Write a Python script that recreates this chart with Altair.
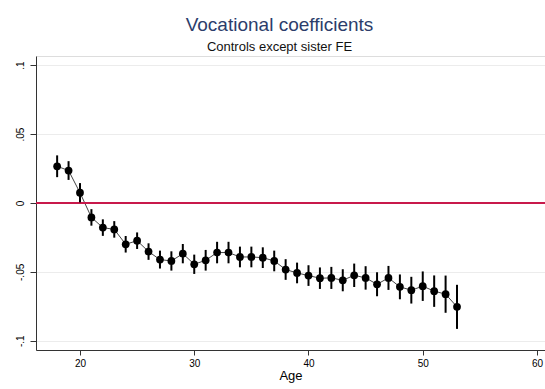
import altair as alt
import pandas as pd

ages = list(range(18, 54))
coef = [0.0266, 0.0235, 0.0074, -0.0105, -0.0179, -0.0192, -0.0300, -0.0274, -0.0353,
        -0.0411, -0.0421, -0.0368, -0.0445, -0.0416, -0.0360, -0.0360, -0.0392, -0.0392,
        -0.0397, -0.0421, -0.0483, -0.0508, -0.0527, -0.0546, -0.0544, -0.0561, -0.0525,
        -0.0544, -0.0590, -0.0544, -0.0609, -0.0633, -0.0604, -0.0640, -0.0662, -0.0754]
ci_lo = [0.0187, 0.0167, 0.0004, -0.0165, -0.0239, -0.0252, -0.0360, -0.0334, -0.0413,
         -0.0476, -0.0491, -0.0438, -0.0515, -0.0491, -0.0438, -0.0438, -0.0467, -0.0467,
         -0.0472, -0.0496, -0.0558, -0.0583, -0.0602, -0.0624, -0.0624, -0.0641, -0.0610,
         -0.0629, -0.0677, -0.0631, -0.0699, -0.0730, -0.0711, -0.0754, -0.0797, -0.0914]
ci_hi = [0.0345, 0.0303, 0.0144, -0.0045, -0.0119, -0.0132, -0.0240, -0.0214, -0.0293,
         -0.0346, -0.0351, -0.0298, -0.0375, -0.0341, -0.0282, -0.0282, -0.0317, -0.0317,
         -0.0322, -0.0346, -0.0408, -0.0433, -0.0452, -0.0468, -0.0464, -0.0481, -0.0440,
         -0.0459, -0.0503, -0.0457, -0.0519, -0.0536, -0.0497, -0.0526, -0.0527, -0.0594]
x_ticks = [20, 30, 40, 50, 60]
y_ticks = [-0.1, -0.05, 0, 0.05, 0.1]
ref_line = [0]

df = pd.DataFrame({"age": ages, "coef": coef, "lo": ci_lo, "hi": ci_hi})
ref = pd.DataFrame({"y": ref_line})

FONT = "Liberation Sans"
xs = alt.Scale(domain=[16.15, 60.7], nice=False, zero=False)
ys = alt.Scale(domain=[-0.1067, 0.1066], nice=False, zero=False)

ylab = ("datum.value == 0 ? '0' : (datum.value < 0 ? '-' : '') + "
        "replace(format(abs(datum.value), '.2~f'), '0.', '.')")

x_enc = alt.X("age:Q", scale=xs, title="Age",
              axis=alt.Axis(values=x_ticks, grid=False, tickSize=5, labelPadding=3,
                            titlePadding=1, titleFontWeight="normal",
                            titleFont=FONT, titleFontSize=13,
                            domainColor="#333333", tickColor="#333333"))
y_enc = alt.Y("coef:Q", scale=ys, title=None,
              axis=alt.Axis(values=y_ticks, labelExpr=ylab, labelAngle=270,
                            labelAlign="center", labelBaseline="bottom", labelPadding=5,
                            tickSize=6, grid=True, gridColor="#ececec", gridWidth=1,
                            domainColor="#333333", tickColor="#333333"))

base = alt.Chart(df)

refrule = alt.Chart(ref).mark_rule(color="#c8194b", strokeWidth=2).encode(
    y=alt.Y("y:Q", scale=ys))

line = base.mark_line(color="#444444", strokeWidth=1).encode(x=x_enc, y=y_enc)

bars = base.mark_rule(color="black", strokeWidth=2).encode(
    x=alt.X("age:Q", scale=xs), y=alt.Y("lo:Q", scale=ys), y2="hi:Q")

pts = base.mark_point(filled=True, color="black", size=60, opacity=1).encode(
    x=alt.X("age:Q", scale=xs), y=alt.Y("coef:Q", scale=ys))

chart = alt.layer(line, refrule, bars, pts).properties(
    width=509, height=294,
    padding={"left": 36, "top": 56, "right": 0, "bottom": 39},
    autosize=alt.AutoSizeParams(type="none"),
    title=alt.TitleParams(
        text="Vocational coefficients",
        subtitle="Controls except sister FE",
        anchor="middle", dx=-11, offset=2,
        font=FONT, fontSize=19, fontWeight="normal", color="#2c3d6b",
        subtitleFont=FONT, subtitleFontSize=13, subtitleColor="#111111",
        subtitlePadding=6,
    ),
).configure_view(stroke=None).configure_axis(
    labelFont=FONT, titleFont=FONT, labelFontSize=13, titleFontSize=13,
    labelColor="#111111", titleColor="#111111", titleFontWeight="normal"
).configure(background="white")

chart.save("out.html", embed_options={"renderer": "svg", "actions": False})
